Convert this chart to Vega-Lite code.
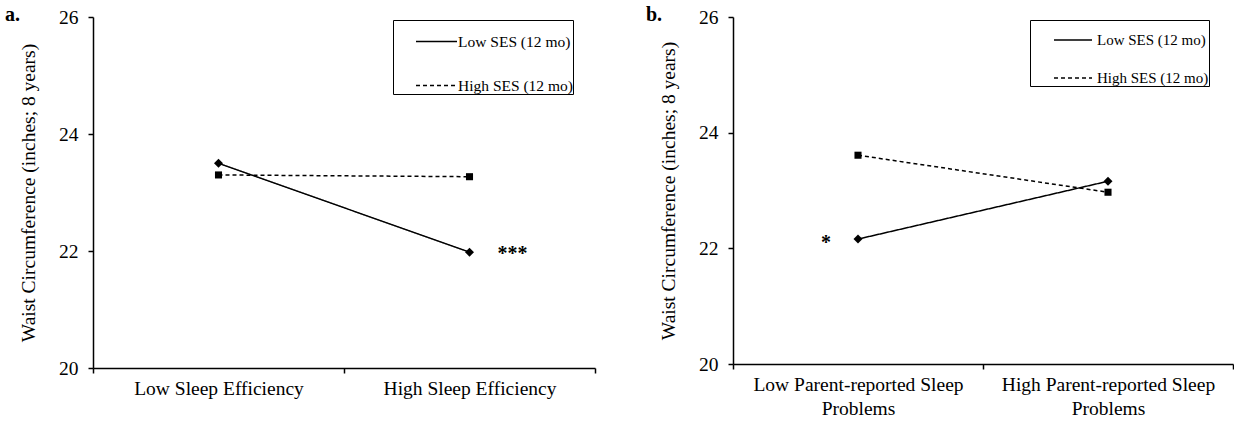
{
  "$schema": "https://vega.github.io/schema/vega-lite/v6.json",
  "background": "white",
  "padding": {"left": 5, "top": 5, "right": 0, "bottom": 0},
  "config": {
    "font": "Liberation Serif",
    "view": {"stroke": null},
    "axis": {
      "domainColor": "black", "domainWidth": 1.5, "tickColor": "black", "tickWidth": 1.5, "tickSize": 5,
      "labelColor": "black", "titleColor": "black", "labelFont": "Liberation Serif", "titleFont": "Liberation Serif",
      "labelFontSize": 19.5, "titleFontSize": 19.5, "titleFontWeight": "normal", "grid": false
    },
    "legend": {"labelFont": "Liberation Serif", "labelColor": "black"},
    "title": {"font": "Liberation Serif", "color": "black"}
  },
  "datasets": {
    "a": [
      {"sleep": "Low Sleep Efficiency", "ses": "Low SES (12 mo)", "waist": 23.5},
      {"sleep": "High Sleep Efficiency", "ses": "Low SES (12 mo)", "waist": 21.98},
      {"sleep": "Low Sleep Efficiency", "ses": "High SES (12 mo)", "waist": 23.3},
      {"sleep": "High Sleep Efficiency", "ses": "High SES (12 mo)", "waist": 23.27}
    ],
    "starsA": [
      {"sleep": "High Sleep Efficiency", "waist": 21.98, "mark": "***"}
    ],
    "b": [
      {"sleep": "Low Parent-reported Sleep Problems", "ses": "Low SES (12 mo)", "waist": 22.16},
      {"sleep": "High Parent-reported Sleep Problems", "ses": "Low SES (12 mo)", "waist": 23.16},
      {"sleep": "Low Parent-reported Sleep Problems", "ses": "High SES (12 mo)", "waist": 23.61},
      {"sleep": "High Parent-reported Sleep Problems", "ses": "High SES (12 mo)", "waist": 22.97}
    ],
    "starsB": [
      {"sleep": "Low Parent-reported Sleep Problems", "waist": 22.16, "mark": "*"}
    ]
  },
  "spacing": 50,
  "resolve": {"scale": {"strokeDash": "independent"}, "legend": {"strokeDash": "independent"}},
  "hconcat": [
    {
      "width": 502, "height": 351,
      "title": {"text": "a.", "anchor": "start", "frame": "group", "fontSize": 20, "fontWeight": "bold", "dx": -88, "offset": -18},
      "encoding": {
        "x": {"field": "sleep", "type": "nominal", "sort": ["Low Sleep Efficiency", "High Sleep Efficiency"],
              "scale": {"paddingInner": 0, "paddingOuter": 0},
              "axis": {"title": null, "labelAngle": 0, "tickBand": "extent", "labelPadding": 6, "labelLimit": 400}},
        "y": {"field": "waist", "type": "quantitative", "scale": {"domain": [20, 26], "nice": false, "zero": false},
              "axis": {"title": "Waist Circumference (inches; 8 years)", "values": [20, 22, 24, 26], "labelPadding": 10, "titlePadding": 20}}
      },
      "layer": [
        {
          "data": {"name": "a"},
          "mark": {"type": "line", "color": "black", "strokeWidth": 1.5},
          "encoding": {
            "strokeDash": {"field": "ses", "type": "nominal",
              "scale": {"domain": ["Low SES (12 mo)", "High SES (12 mo)"], "range": [[1, 0], [4, 3]]},
              "legend": {
                "title": null, "orient": "none", "legendX": 300, "legendY": 3,
                "strokeColor": "black", "padding": 0, "rowPadding": 14,
                "symbolSize": 1681, "symbolOffset": 22, "labelOffset": 0, "labelFontSize": 15.5,
                "labelExpr": "datum.label + '\u00a0\u00a0\u00a0\u00a0\u00a0'",
                "encode": {"symbols": {
                  "shape": {"signal": "datum.value === 'Low SES (12 mo)' ? 'M-1,-0.037L-0.22,-0.037L-0.22,0.037L-1,0.037Z M0.22,-0.037L1,-0.037L1,0.037L0.22,0.037Z M0,-0.22L0.22,0L0,0.22L-0.22,0Z' : 'M-1,-0.037L-0.82,-0.037L-0.82,0.037L-1,0.037Z M-0.7,-0.037L-0.52,-0.037L-0.52,0.037L-0.7,0.037Z M-0.4,-0.037L-0.24,-0.037L-0.24,0.037L-0.4,0.037Z M-0.17,-0.17L0.17,-0.17L0.17,0.17L-0.17,0.17Z M0.24,-0.037L0.4,-0.037L0.4,0.037L0.24,0.037Z M0.52,-0.037L0.7,-0.037L0.7,0.037L0.52,0.037Z M0.82,-0.037L1,-0.037L1,0.037L0.82,0.037Z'"},
                  "size": {"value": 1681},
                  "fill": {"value": "black"}, "fillOpacity": {"value": 1}, "opacity": {"value": 1},
                  "stroke": {"value": "transparent"}, "strokeWidth": {"value": 0}
                }}
              }}
          }
        },
        {
          "data": {"name": "a"},
          "transform": [{"filter": "datum.ses === 'Low SES (12 mo)'"}],
          "mark": {"type": "point", "filled": true, "color": "black", "opacity": 1, "shape": "diamond", "size": 80}
        },
        {
          "data": {"name": "a"},
          "transform": [{"filter": "datum.ses === 'High SES (12 mo)'"}],
          "mark": {"type": "point", "filled": true, "color": "black", "opacity": 1, "shape": "square", "size": 50}
        },
        {
          "data": {"name": "starsA"},
          "mark": {"type": "text", "fontSize": 20, "fontWeight": "bold", "dx": 43, "dy": 2, "color": "black"},
          "encoding": {"text": {"field": "mark"}}
        }
      ]
    },
    {
      "width": 500, "height": 347,
      "title": {"text": "b.", "anchor": "start", "frame": "group", "fontSize": 20, "fontWeight": "bold", "dx": -87, "offset": -18},
      "encoding": {
        "x": {"field": "sleep", "type": "nominal", "sort": ["Low Parent-reported Sleep Problems", "High Parent-reported Sleep Problems"],
              "scale": {"paddingInner": 0, "paddingOuter": 0},
              "axis": {"title": null, "labelAngle": 0, "tickBand": "extent", "labelPadding": 6, "labelLimit": 400,
                       "labelExpr": "datum.label ? [replace(datum.label, ' Problems', ''), 'Problems'] : ''", "labelLineHeight": 24}},
        "y": {"field": "waist", "type": "quantitative", "scale": {"domain": [20, 26], "nice": false, "zero": false},
              "axis": {"title": "Waist Circumference (inches; 8 years)", "values": [20, 22, 24, 26], "labelPadding": 10, "titlePadding": 20}}
      },
      "layer": [
        {
          "data": {"name": "b"},
          "mark": {"type": "line", "color": "black", "strokeWidth": 1.5},
          "encoding": {
            "strokeDash": {"field": "ses", "type": "nominal",
              "scale": {"domain": ["Low SES (12 mo)", "High SES (12 mo)"], "range": [[1, 0], [4, 3]]},
              "legend": {
                "title": null, "orient": "none", "legendX": 297, "legendY": 3,
                "strokeColor": "black", "padding": 0, "rowPadding": 10,
                "symbolSize": 1444, "symbolOffset": 23, "labelOffset": 4, "labelFontSize": 15,
                "labelExpr": "datum.label + '\u00a0\u00a0\u00a0\u00a0\u00a0\u00a0'",
                "encode": {"symbols": {
                  "shape": {"signal": "datum.value === 'Low SES (12 mo)' ? 'M-1,-0.04L-0.237,-0.04L-0.237,0.04L-1,0.04Z M0.237,-0.04L1,-0.04L1,0.04L0.237,0.04Z M0,-0.237L0.237,0L0,0.237L-0.237,0Z' : 'M-1,-0.04L-0.81,-0.04L-0.81,0.04L-1,0.04Z M-0.68,-0.04L-0.5,-0.04L-0.5,0.04L-0.68,0.04Z M-0.38,-0.04L-0.25,-0.04L-0.25,0.04L-0.38,0.04Z M-0.184,-0.184L0.184,-0.184L0.184,0.184L-0.184,0.184Z M0.25,-0.04L0.38,-0.04L0.38,0.04L0.25,0.04Z M0.5,-0.04L0.68,-0.04L0.68,0.04L0.5,0.04Z M0.81,-0.04L1,-0.04L1,0.04L0.81,0.04Z'"},
                  "size": {"value": 1444},
                  "fill": {"value": "black"}, "fillOpacity": {"value": 1}, "opacity": {"value": 1},
                  "stroke": {"value": "transparent"}, "strokeWidth": {"value": 0}
                }}
              }}
          }
        },
        {
          "data": {"name": "b"},
          "transform": [{"filter": "datum.ses === 'Low SES (12 mo)'"}],
          "mark": {"type": "point", "filled": true, "color": "black", "opacity": 1, "shape": "diamond", "size": 80}
        },
        {
          "data": {"name": "b"},
          "transform": [{"filter": "datum.ses === 'High SES (12 mo)'"}],
          "mark": {"type": "point", "filled": true, "color": "black", "opacity": 1, "shape": "square", "size": 50}
        },
        {
          "data": {"name": "starsB"},
          "mark": {"type": "text", "fontSize": 20, "fontWeight": "bold", "dx": -32, "dy": 4, "color": "black"},
          "encoding": {"text": {"field": "mark"}}
        }
      ]
    }
  ]
}
